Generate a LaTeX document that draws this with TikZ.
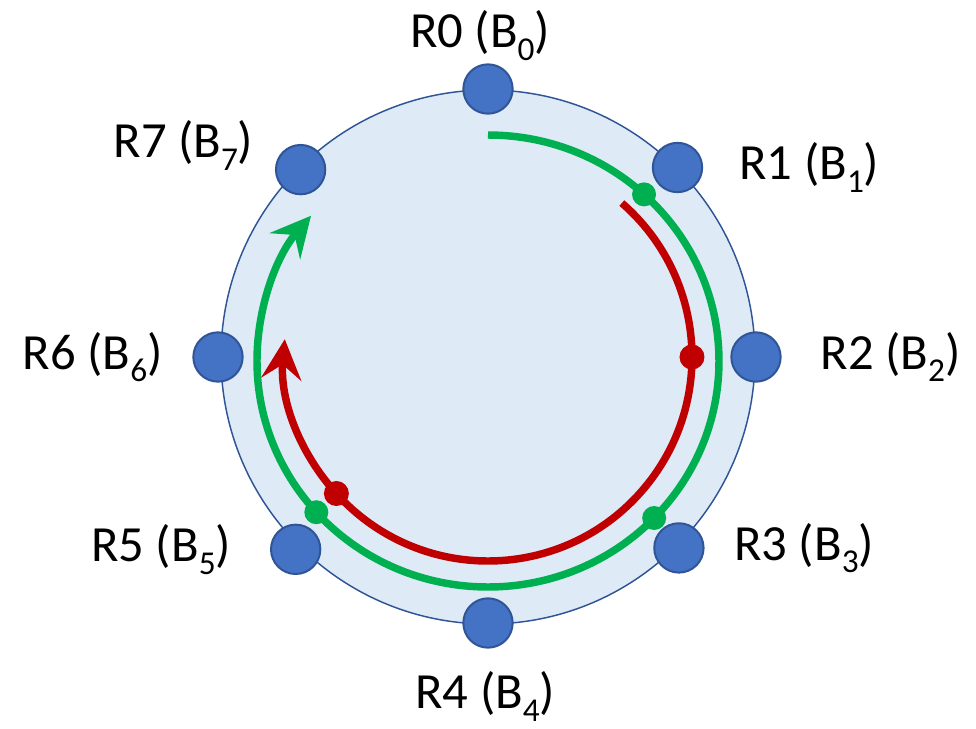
\documentclass[tikz,border=0pt]{standalone}
\usepackage{fontspec}
\setmainfont{Carlito}
\usetikzlibrary{arrows.meta,positioning}

\definecolor{ringfill}{HTML}{DEEBF7}
\definecolor{ringline}{HTML}{2F5597}
\definecolor{routerblue}{HTML}{4472C4}
\definecolor{pathgreen}{HTML}{00B050}
\definecolor{pathred}{HTML}{C00000}

\newcommand{\bsub}[1]{\raisebox{-0.25em}{\fontsize{25}{25}\selectfont #1}}

\begin{document}
\begin{tikzpicture}[x=0.75pt, y=0.75pt]

% ---------- styles ----------
\tikzset{
  router/.style={circle, draw=ringline, fill=routerblue, line width=1.5pt,
    minimum size=37pt, inner sep=0pt},
  rlabel/.style={font=\fontsize{38}{46}\selectfont, inner sep=0pt},
  flow/.style={-{Stealth[length=30pt, width=30pt, inset=11pt]}, line width=5.6pt},
  hop/.style={fill=#1}
}

\useasboundingbox (-488,-372) rectangle (488,357);

% ---------- ring ----------
\coordinate (O) at (0,0);
\draw[ringline, fill=ringfill, line width=1.1pt] (O) circle (267);

% ---------- paths ----------
% green path (R0 -> R7)
\draw[flow, pathgreen] ([shift={(0,-4)}]90:231 and 226)
  arc[start angle=90, end angle=-220, x radius=231, y radius=226];

% red path (R1 -> R6)
\draw[flow, pathred] (49:204)
  arc[start angle=49, end angle=-185, radius=204];

% hops on the paths
\coordinate (g1) at ([shift={(0,-4)}]47.5:231 and 226);
\coordinate (g2) at ([shift={(0,-4)}]-44:231 and 226);
\coordinate (g3) at ([shift={(0,-4)}]-138:231 and 226);
\coordinate (r1) at (0:204);
\coordinate (r2) at (-138:204);
\fill[hop=pathgreen] (g1) circle (12);
\fill[hop=pathgreen] (g2) circle (12);
\fill[hop=pathgreen] (g3) circle (12);
\fill[hop=pathred] (r1) circle (12.5);
\fill[hop=pathred] (r2) circle (12.5);

% ---------- routers ----------
\node[router] (R0) at (90:268) {};
\node[router] (R1) at (45:268) {};
\node[router] (R2) at (0:268) {};
\node[router] (R3) at (-45:270) {};
\node[router] (R4) at (-90:266) {};
\node[router] (R5) at (-135:272) {};
\node[router] (R6) at (180:270) {};
\node[router] (R7) at (135:265) {};

% ---------- labels ----------
\node[rlabel, above=2pt of R0, xshift=-6pt] (L0) {R0 (B\bsub{0})};
\node[rlabel, right=27pt of R1] (L1) {R1 (B\bsub{1})};
\node[rlabel, right=29pt of R2] (L2) {R2 (B\bsub{2})};
\node[rlabel, right=22pt of R3] (L3) {R3 (B\bsub{3})};
\node[rlabel, below=17pt of R4, xshift=-2pt] (L4) {R4 (B\bsub{4})};
\node[rlabel, left=29pt of R5] (L5) {R5 (B\bsub{5})};
\node[rlabel, left=22pt of R6] (L6) {R6 (B\bsub{6})};
\node[rlabel, left=16pt of R7, yshift=18pt] (L7) {R7 (B\bsub{7})};

\end{tikzpicture}
\end{document}
